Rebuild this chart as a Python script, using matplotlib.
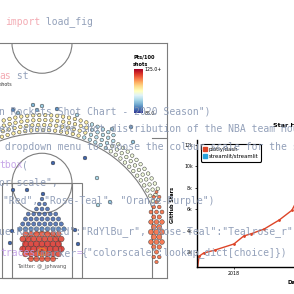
import numpy as np
import matplotlib.pyplot as plt
from matplotlib.patches import Arc, Circle, Rectangle
from matplotlib.lines import Line2D
from matplotlib import colors as mcolors

W = 294  # figure size in px
CMAP = plt.get_cmap("RdYlBu_r")
NORM = mcolors.Normalize(vmin=85, vmax=125)

# ---- shot chart data (feet, hoop at 0,0) ----
# restricted area cluster, one hex row per entry
rim_row_y = [10.6, 9.6, 8.6, 7.6, 6.6, 5.6, 4.6, 3.6, 2.6, 1.6, 0.6, -0.4, -1.4]
rim_row_hw = [0.0, 0.55, 1.1, 2.75, 3.3, 3.85, 4.4, 3.3, 3.85, 3.3, 3.85, 3.3, 2.2]
rim_row_val = [88, 88, 88, 88, 88, 88, 89, 119, 120, 121, 121, 120, 119]
rim_row_size = [7, 7, 8, 8, 9, 9, 10, 15, 17, 19, 19, 17, 14]

# corner three (right side)
corner_row_y = [12.0, 11.0, 10.0, 9.0, 8.0, 7.0, 6.0, 5.0, 4.0, 3.0, 2.0, 1.0, 0.0, -1.0, -2.0]
corner_row_hw = [0, 0.55, 0, 0.55, 1.1, 0.55, 1.1, 0.55, 1.1, 0.55, 1.1, 0.55, 0, 0.55, 0]
corner_row_size = [5, 6, 6, 7, 8, 9, 11, 13, 14, 14, 12, 10, 9, 7, 6]
corner_val = 117

# three point band: radius rows and angle ranges (deg from straight ahead)
band_r = [24.4, 25.4, 26.4, 27.4]
band_a0 = [-22, -22, -22, -20]
band_a1 = [67, 67, 62, 32]
band_edges = [-25, 20, 33, 90]
band_vals = [107, 98, 103]

# scattered mid range / deep shots
mid_x = [2.2, 8.6, 11.0, -5.8, -3.0, 0.2, 11.2, 13.6, -6.4, 7.2, -6.0, 6.6]
mid_y = [17.8, 18.8, 14.8, 12.4, 12.4, 11.6, 9.4, 10.0, 1.8, 1.6, 4.2, 4.4]
mid_val = [88, 88, 97, 88, 88, 88, 97, 95, 88, 88, 88, 88]
deep_x = [-5.8, -4.8, -1.0, 0.0, -1.8, 3.0, 7.0, 14.0, 17.8, 18.2]
deep_y = [28.4, 27.8, 28.4, 29.2, 29.4, 28.6, 27.4, 24.6, 25.0, 22.0]
deep_val = [90, 95, 93, 96, 94, 91, 97, 96, 92, 95]

# ---- star history data ----
star_year = [2017.44, 2017.47, 2017.54, 2017.72, 2018.0, 2018.15, 2018.26,
             2018.46, 2018.69, 2018.88, 2018.94]
star_dash = [0, 1600, 1900, 2200, 2750, 3500, 3700, 4150, 5000, 5900, 6600]
star_ticks = [2000, 4000, 6000, 8000, 10000, 12000]
star_tick_labels = ["2k", "4k", "6k", "8k", "10k", "12k"]
repos = ["plotly/dash", "streamlit/streamlit"]
repo_colors = ["#dd4528", "#28a3dd"]

# ---- code overlay ----
BASE = "#8796b2"
PINK = "#f2a2ab"
PURP = "#c29ee6"
code_lines = [
    (22, 5, [("import", PINK), (" load_fig", BASE)]),
    (76, -0.5, [("as", PINK), (" st", BASE)]),
    (111, -1, [("n Rockets Shot Chart - 2020 Season\")", BASE)]),
    (129, -0.8, [("ext shows the shot distribution of the NBA team Houston", BASE)]),
    (147, -1, [(" dropdown menu to choose the colour scale for the shots", BASE)]),
    (165, -1, [("tbox", PURP), ("(", BASE)]),
    (183, -1, [("or scale\",", BASE)]),
    (201, 3, [("\"Red\", \"Rose-Teal\", \"Orange-Purple\")", BASE)]),
    (232, -1, [("ue-Red\":\"Red\":\"RdYlBu_r\", \"Rose-Teal\":\"Tealrose_r\"", BASE)]),
    (253, 0, [("traces", PURP), ("(marker", BASE), ("=", PURP),
              ("{\"colorscale\":lookup_dict[choice]})", BASE)]),
]


def fig_box(x0, y0, x1, y1):
    return [x0 / W, 1 - y1 / W, (x1 - x0) / W, (y1 - y0) / W]


def hex_row(cx, hw, step=1.1):
    return cx + np.arange(-hw, hw + 0.01, step)


fig = plt.figure(figsize=(2.94, 2.94), dpi=100)
fig.patch.set_facecolor("white")

# ---------------- court ----------------
ax = fig.add_axes([0, 0, 1, 1])
ax.set_xlim(-8.4, 50.4)
ax.set_ylim(-8.4, 50.4)
ax.axis("off")
gray = "#7d7d7d"
lc = dict(color=gray, lw=0.8, zorder=1)
ax.plot([-25, 25], [41.75, 41.75], **lc)
ax.plot([25, 25], [-5.25, 41.75], **lc)
ax.plot([-25, 25], [-5.25, -5.25], **lc)
ax.plot([22, 25], [22.75, 22.75], **lc)
ax.plot([22, 22], [-5.25, 8.95], **lc)
ax.add_patch(Rectangle((-8, -5.25), 16, 19, fill=False, ec=gray, lw=0.8))
ax.add_patch(Rectangle((-6, -5.25), 12, 19, fill=False, ec=gray, lw=0.8))
ax.add_patch(Circle((0, 13.75), 6, fill=False, ec=gray, lw=0.8))
ax.add_patch(Arc((0, 0), 47.5, 47.5, theta1=22.1, theta2=157.9, ec=gray, lw=0.8))
ax.add_patch(Arc((0, 41.75), 12, 12, theta1=180, theta2=360, ec=gray, lw=0.8))
ax.add_patch(Arc((0, 0), 8, 8, theta1=0, theta2=180, ec=gray, lw=0.8))
ax.plot([-3, 3], [-1.25, -1.25], **lc)
ax.add_patch(Circle((0, 0), 0.75, fill=False, ec="#ec7c2a", lw=0.9, zorder=5))

dot_kw = dict(cmap=CMAP, norm=NORM, edgecolors="#3c3c3c", linewidths=0.35, zorder=3)

# three point band
bx, by, bv = [], [], []
for i, r in enumerate(band_r):
    step = np.degrees(1.2 / r)
    ang = np.arange(band_a0[i] + (step / 2 if i % 2 else 0), band_a1[i], step)
    for a in ang:
        x, y = r * np.sin(np.radians(a)), r * np.cos(np.radians(a))
        if x > 24.6:
            continue
        k = np.searchsorted(band_edges, a) - 1
        bx.append(x)
        by.append(y)
        bv.append(band_vals[k])
ax.scatter(bx, by, s=6.5, c=bv, **dot_kw)

# corner three
cx_, cy_, cs_ = [], [], []
for y, hw, s in zip(corner_row_y, corner_row_hw, corner_row_size):
    for x in hex_row(22.9, hw):
        cx_.append(x)
        cy_.append(y)
        cs_.append(s)
ax.scatter(cx_, cy_, s=cs_, c=[corner_val] * len(cx_), alpha=0.9, **dot_kw)

# restricted area
rx, ry, rv, rs = [], [], [], []
for y, hw, v, s in zip(rim_row_y, rim_row_hw, rim_row_val, rim_row_size):
    for x in hex_row(0, hw):
        rx.append(x)
        ry.append(y)
        rv.append(v)
        rs.append(s)
sc = ax.scatter(rx, ry, s=rs, c=rv, alpha=0.85, **dot_kw)

ax.scatter(mid_x, mid_y, s=7, c=mid_val, **dot_kw)
ax.scatter(deep_x, deep_y, s=7, c=deep_val, **dot_kw)

# colorbar
cax = fig.add_axes(fig_box(134, 69, 143, 113))
cb = fig.colorbar(sc, cax=cax)
cb.solids.set_alpha(1)
cb.set_ticks([85, 125])
cb.set_ticklabels(["85.0-", "125.0+"])
cb.ax.tick_params(labelsize=3.3, length=0, pad=1)
cb.outline.set_visible(False)
fig.text(133 / W, 1 - 57 / W, "Pts/100", fontsize=3.6, weight="bold", va="center")
fig.text(133 / W, 1 - 65 / W, "shots", fontsize=3.6, weight="bold", va="center")
fig.text(12 / W, 1 - 85 / W, "shots", fontsize=3.4, ha="right", va="center", color="#333333")
fig.text(42 / W, 1 - 266 / W, "Twitter: @_jphwang", fontsize=3.6, ha="center",
         va="center", color="#555555")

# ---------------- star history ----------------
ax2 = fig.add_axes(fig_box(197, 140, 392, 267))
ax2.set_facecolor("none")
ax2.plot(star_year, star_dash, color=repo_colors[0], lw=1.0, marker="o", ms=1.0)
ax2.set_xlim(2017.44, 2020.4)
ax2.set_ylim(600, 12470)
ax2.set_yticks(star_ticks)
ax2.set_yticklabels(star_tick_labels)
ax2.set_xticks([2018, 2019, 2020])
ax2.set_xticklabels(["2018", "2019", "2020"])
ax2.tick_params(labelsize=3.4, length=1.5, width=0.5, pad=1.5)
for side in ["top", "right"]:
    ax2.spines[side].set_visible(False)
for side in ["left", "bottom"]:
    ax2.spines[side].set_linewidth(1.0)
ax2.set_ylabel("GitHub Stars", fontsize=3.6, weight="bold")
ax2.yaxis.set_label_coords(-0.114, 0.49)
ax2.set_xlabel("Date", fontsize=4, weight="bold")
ax2.xaxis.set_label_coords(0.5, -0.1)
ax2.text(0.5, 1.118, "Star History", transform=ax2.transAxes, ha="center",
         va="center", fontsize=4.6, weight="bold")
handles = [Line2D([], [], marker="s", ls="none", color=c, ms=2.2) for c in repo_colors]
leg = ax2.legend(handles, repos, loc="upper left", bbox_to_anchor=(0.005, 0.99),
                 fontsize=3.9, handlelength=0.6, handletextpad=0.3, borderpad=0.5,
                 labelspacing=0.4, fancybox=True, framealpha=1)
leg.get_frame().set_edgecolor("black")
leg.get_frame().set_linewidth(0.8)

# ---------------- code overlay (own axes so it sits above everything) ----------------
ax3 = fig.add_axes([0, 0, 1, 1], zorder=20)
ax3.set_xlim(0, W)
ax3.set_ylim(W, 0)
ax3.axis("off")
FS = 7
CW = 0.6021 * FS * 100 / 72
for y, x0, segs in code_lines:
    x = x0
    for txt, col in segs:
        ax3.text(x, y, txt, fontsize=FS, family="DejaVu Sans Mono", color=col,
                 va="center", ha="left", alpha=0.9, clip_on=False)
        x += len(txt) * CW

fig.savefig("out.png", dpi=100)
